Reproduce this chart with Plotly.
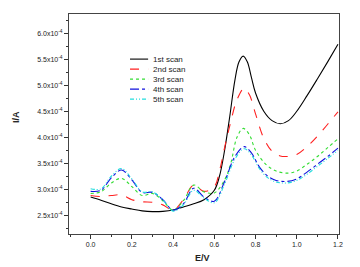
import plotly.graph_objects as go

# E/V sample points for each scan
x1 = [0.0, 0.05, 0.1, 0.15, 0.2, 0.25, 0.3, 0.35, 0.4, 0.45, 0.5, 0.55, 0.6, 0.625, 0.65, 0.675, 0.70, 0.72, 0.74, 0.76, 0.78, 0.80, 0.84, 0.88, 0.92, 0.96, 1.0, 1.05, 1.1, 1.15, 1.2]
y1 = [2.85, 2.79, 2.72, 2.66, 2.62, 2.585, 2.57, 2.575, 2.60, 2.66, 2.72, 2.80, 2.98, 3.25, 3.75, 4.40, 5.10, 5.45, 5.56, 5.45, 5.15, 4.85, 4.50, 4.32, 4.26, 4.32, 4.50, 4.80, 5.12, 5.45, 5.79]

x2 = [0.0, 0.05, 0.1, 0.15, 0.2, 0.25, 0.3, 0.35, 0.4, 0.45, 0.5, 0.55, 0.6, 0.625, 0.65, 0.68, 0.71, 0.745, 0.77, 0.8, 0.84, 0.88, 0.92, 0.95, 1.0, 1.05, 1.1, 1.15, 1.2]
y2 = [2.88, 2.86, 2.88, 2.89, 2.80, 2.76, 2.75, 2.70, 2.60, 2.80, 3.08, 2.96, 3.05, 3.35, 3.80, 4.30, 4.72, 4.94, 4.82, 4.45, 3.98, 3.73, 3.64, 3.63, 3.67, 3.82, 4.02, 4.25, 4.49]

x3 = [0.0, 0.05, 0.1, 0.15, 0.2, 0.25, 0.3, 0.35, 0.4, 0.45, 0.5, 0.55, 0.6, 0.65, 0.68, 0.71, 0.74, 0.77, 0.8, 0.85, 0.9, 0.96, 1.0, 1.05, 1.1, 1.15, 1.2]
y3 = [2.92, 2.95, 3.12, 3.21, 3.05, 2.88, 2.92, 2.78, 2.60, 2.78, 3.08, 2.95, 2.93, 3.18, 3.50, 4.00, 4.17, 4.05, 3.75, 3.48, 3.35, 3.31, 3.35, 3.48, 3.63, 3.80, 3.97]

x4 = [0.0, 0.05, 0.1, 0.15, 0.2, 0.25, 0.3, 0.35, 0.4, 0.45, 0.5, 0.55, 0.6, 0.65, 0.7, 0.745, 0.78, 0.82, 0.86, 0.9, 0.95, 1.0, 1.05, 1.1, 1.15, 1.2]
y4 = [2.96, 2.98, 3.22, 3.37, 3.18, 2.94, 2.94, 2.80, 2.60, 2.72, 3.02, 2.85, 2.77, 3.15, 3.63, 3.82, 3.70, 3.42, 3.25, 3.17, 3.15, 3.20, 3.33, 3.48, 3.63, 3.79]

x5 = [0.0, 0.05, 0.1, 0.15, 0.2, 0.25, 0.3, 0.35, 0.4, 0.45, 0.5, 0.55, 0.6, 0.65, 0.7, 0.745, 0.78, 0.82, 0.86, 0.9, 0.95, 1.0, 1.05, 1.1, 1.15, 1.2]
y5 = [3.01, 3.01, 3.25, 3.40, 3.20, 2.95, 2.95, 2.80, 2.58, 2.70, 2.98, 2.83, 2.74, 3.10, 3.58, 3.78, 3.66, 3.39, 3.22, 3.14, 3.12, 3.17, 3.29, 3.44, 3.59, 3.75]

names = ["1st scan", "2nd scan", "3rd scan", "4th scan", "5th scan"]
colors = ["#000000", "#ff2020", "#33dd33", "#1010dd", "#22dddd"]
dashes = ["solid", "dash", "dot", "dashdot", "4px,2px,1px,2px,1px,2px"]

ytick_vals = [2.5, 3.0, 3.5, 4.0, 4.5, 5.0, 5.5, 6.0]
ytick_text = [f"{v:.1f}x10<sup>-4</sup>" for v in ytick_vals]
xtick_vals = [0.0, 0.2, 0.4, 0.6, 0.8, 1.0, 1.2]
xtick_text = ["0.0", "0.2", "0.4", "0.6", "0.8", "1.0", "1.2"]

SCALE = 1e-4
fig = go.Figure()
for xs, ys, n, c, d in zip([x1, x2, x3, x4, x5], [y1, y2, y3, y4, y5], names, colors, dashes):
    fig.add_trace(go.Scatter(x=xs, y=[v * SCALE for v in ys], mode="lines", name=n, showlegend=False,
                             line=dict(color=c, width=1.1, dash=d, shape="spline", smoothing=1.0)))

# compact legend (line samples + labels) in paper coordinates
leg_x0, leg_x1, leg_tx = 0.226, 0.293, 0.303
leg_top, leg_step = 0.795, 0.0455
for i, (n, c, d) in enumerate(zip(names, colors, dashes)):
    yy = leg_top - i * leg_step
    fig.add_shape(type="line", xref="paper", yref="paper", x0=leg_x0, x1=leg_x1, y0=yy, y1=yy,
                  line=dict(color=c, width=1.1, dash=d))
    fig.add_annotation(xref="paper", yref="paper", x=leg_tx, y=yy, text=n, showarrow=False,
                       xanchor="left", yanchor="middle", font=dict(size=8, color="#222"))

# axis titles
fig.add_annotation(xref="paper", yref="paper", x=0.496, y=-0.109, text="<b>E/V</b>", showarrow=False,
                   xanchor="center", yanchor="middle", font=dict(size=9, color="#222"))
fig.add_annotation(xref="paper", yref="paper", x=-0.196, y=0.532, text="<b>I/A</b>", showarrow=False,
                   textangle=-90, xanchor="center", yanchor="middle", font=dict(size=9, color="#222"))

font = "Liberation Sans, Arial, sans-serif"
fig.update_layout(
    width=360, height=267,
    margin=dict(l=69, r=21, t=14, b=33),
    paper_bgcolor="white", plot_bgcolor="white",
    font=dict(family=font, size=7, color="#222"),
    showlegend=False,
    xaxis=dict(range=[-0.105, 1.205], tickvals=xtick_vals, ticktext=xtick_text,
               ticks="outside", ticklen=4, tickwidth=1, tickcolor="#333",
               minor=dict(ticks="outside", ticklen=2, dtick=0.1, tick0=0, tickcolor="#333"),
               showline=True, linecolor="#444", linewidth=1, mirror=True, showgrid=False, zeroline=False,
               tickfont=dict(size=7)),
    yaxis=dict(range=[2.14e-4, 6.37e-4], tickvals=[v * SCALE for v in ytick_vals], ticktext=ytick_text,
               ticks="outside", ticklen=4, tickwidth=1, tickcolor="#333",
               minor=dict(ticks="outside", ticklen=2, dtick=0.25e-4, tick0=0, tickcolor="#333"),
               showline=True, linecolor="#444", linewidth=1, mirror=True, showgrid=False, zeroline=False,
               tickfont=dict(size=7)),
)
fig.write_html("out.html")
